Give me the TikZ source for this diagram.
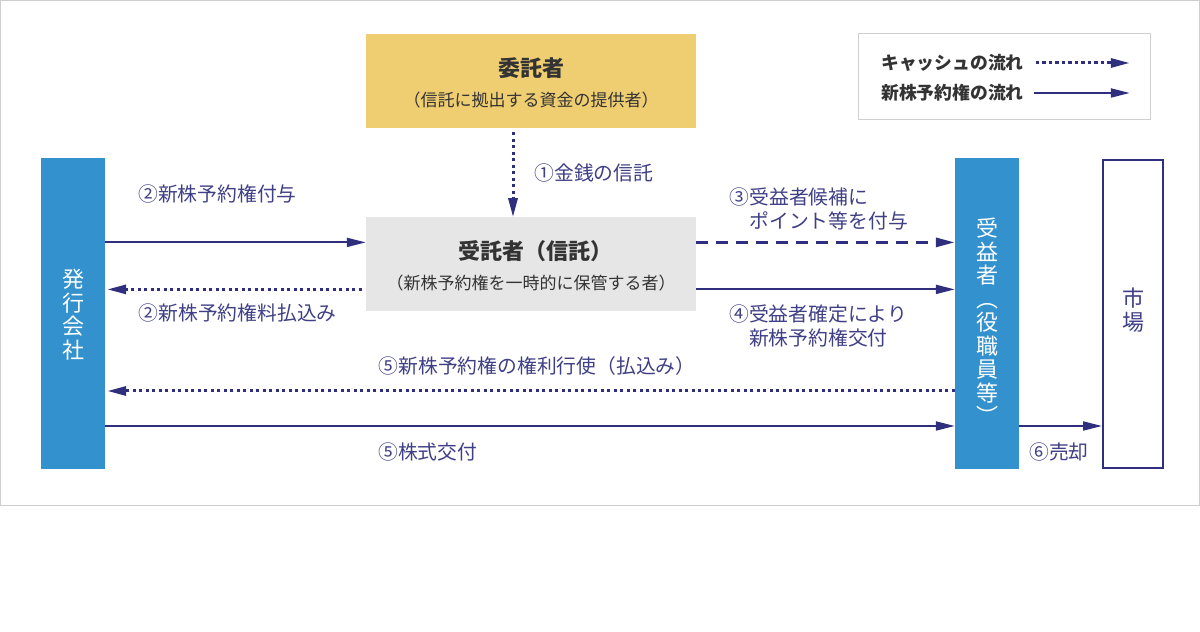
\documentclass[tikz,border=0pt]{standalone}
\usepackage{fontspec}
\setmainfont{Noto Sans CJK JP}
\usepackage{tikz}
\usetikzlibrary{positioning, arrows.meta}
\usepackage{xcolor}
\definecolor{flowblue}{HTML}{2F2F7E}
\definecolor{labelblue}{HTML}{3F3F86}
\definecolor{barblue}{HTML}{3391CE}
\definecolor{settlorgold}{HTML}{EFCD71}
\definecolor{trustgray}{HTML}{E6E6E6}
\definecolor{textgray}{HTML}{333333}
\definecolor{framegray}{HTML}{CFCFCF}

\begin{document}
\begin{tikzpicture}[x=1pt, y=1pt,
                >={Triangle[length=19pt,width=9pt]},
                box/.style={rectangle, minimum width=330pt, minimum height=94pt, inner sep=0pt},
                bar/.style={rectangle, fill=barblue, minimum width=64pt, minimum height=311pt, inner sep=0pt},
                bartext/.style={text=white, align=center, font=\fontsize{22}{23.5}\selectfont, inner sep=0pt},
                title/.style={text=textgray, font=\fontsize{22}{26}\selectfont\bfseries, inner sep=0pt},
                subtitle/.style={text=textgray, font=\fontsize{17}{20}\selectfont, inner sep=0pt},
                lbl/.style={text=labelblue, font=\fontsize{19.8}{24}\selectfont, inner sep=0pt, align=left},
                keytext/.style={text=textgray, font=\fontsize{17.8}{20}\selectfont\bfseries, inner sep=0pt, anchor=west},
                stock/.style={draw=flowblue, line width=2pt},
                cash/.style={draw=flowblue, line width=3pt, dash pattern=on 3.2pt off 3.3pt},
                point/.style={draw=flowblue, line width=3pt, dash pattern=on 12pt off 8pt}
                ]

                \useasboundingbox (0,0) rectangle (1200,632);
                \draw[framegray, line width=1pt] (0.5,126.5) rectangle (1199.5,631.5);

                % Nodes
                \node[box, fill=settlorgold] (settlor) at (531,551) {};
                \node[title] (settlortitle) at ([yshift=13pt]settlor.center) {委託者};
                \node[subtitle] (settlorsub) at ([yshift=-19pt]settlor.center) {（信託に拠出する資金の提供者）};
                \node[box, fill=trustgray, below=89pt of settlor] (trustee) {};
                \node[title] (trusteetitle) at ([xshift=4pt, yshift=13pt]trustee.center) {受託者（信託）};
                \node[subtitle] (trusteesub) at ([yshift=-19pt]trustee.center) {（新株予約権を一時的に保管する者）};
                \node[bar] (issuer) at (73,318.5) {};
                \node[bartext] (issuertext) at ([yshift=-1pt]issuer.center) {発\\行\\会\\社};
                \node[bar] (beneficiary) at (987,318.5) {};
                \node[bartext] (beneficiarytext) at ([yshift=-8pt]beneficiary.center) {受\\益\\者\\︵\\役\\職\\員\\等\\︶};
                \node[draw=flowblue, line width=2pt, minimum width=60pt, minimum height=308pt, inner sep=0pt] (market) at (1133,318) {};
                \node[bartext, text=labelblue] (markettext) at ([yshift=4pt]market.center) {市\\場};

                % Legend
                \node[draw=framegray, line width=1pt, minimum width=292pt, minimum height=86pt] (legend) at (1004,555) {};
                \node[keytext] (cashkey) at (881,569) {キャッシュの流れ};
                \node[keytext, below=30pt of cashkey.west, anchor=west] (rightkey) {新株予約権の流れ};
                \coordinate (cashend) at ([xshift=106pt]cashkey.east);
                \coordinate (rightend) at ([xshift=106pt]rightkey.east);
                \draw[cash,->] ([xshift=12pt]cashkey.east) -- (cashend);
                \draw[stock,->] ([xshift=10pt]rightkey.east) -- (rightend);

                % Rows
                \coordinate (trustin) at ([xshift=-18pt]trustee.north);
                \coordinate (giveY) at ([yshift=22pt]trustee.west);
                \coordinate (payY) at ([yshift=-25pt]trustee.west);
                \coordinate (exerciseY) at ([yshift=-77.5pt]issuer.east);
                \coordinate (deliverY) at ([yshift=-112.5pt]issuer.east);

                % Paths
                \draw[cash,->, shorten <=4pt] (settlor.south -| trustin) -- (trustin)
                    node[lbl, midway, right=20pt] {①金銭の信託};
                \draw[stock,->] (issuer.east |- giveY) -- (giveY)
                    node[lbl, pos=0, anchor=west, xshift=32pt, yshift=48pt] {②新株予約権付与};
                \draw[cash,->, shorten >=2pt] ([xshift=-4pt]payY) -- (issuer.east |- payY)
                    node[lbl, pos=1, anchor=west, xshift=32pt, yshift=-24pt] {②新株予約権料払込み};
                \draw[point,->] (trustee.east |- giveY) -- (beneficiary.west |- giveY)
                    node[lbl, pos=0, anchor=west, xshift=32pt, yshift=33pt] {③受益者候補に\\\phantom{③}ポイント等を付与};
                \draw[stock,->] (trustee.east |- payY) -- (beneficiary.west |- payY)
                    node[lbl, pos=0, anchor=west, xshift=32pt, yshift=-36.5pt] {④受益者確定により\\\phantom{④}新株予約権交付};
                \draw[cash,->, shorten >=2pt] (beneficiary.west |- exerciseY) -- (exerciseY)
                    node[lbl, pos=1, anchor=west, xshift=272pt, yshift=25pt] {⑤新株予約権の権利行使（払込み）};
                \draw[stock,->] (deliverY) -- (beneficiary.west |- deliverY)
                    node[lbl, pos=0, anchor=west, xshift=272pt, yshift=-26pt] {⑤株式交付};
                \draw[stock,->] (beneficiary.east |- deliverY) -- (market.west |- deliverY)
                    node[lbl, pos=0, anchor=west, xshift=9pt, yshift=-26pt] {⑥売却};
\end{tikzpicture}
\end{document}
